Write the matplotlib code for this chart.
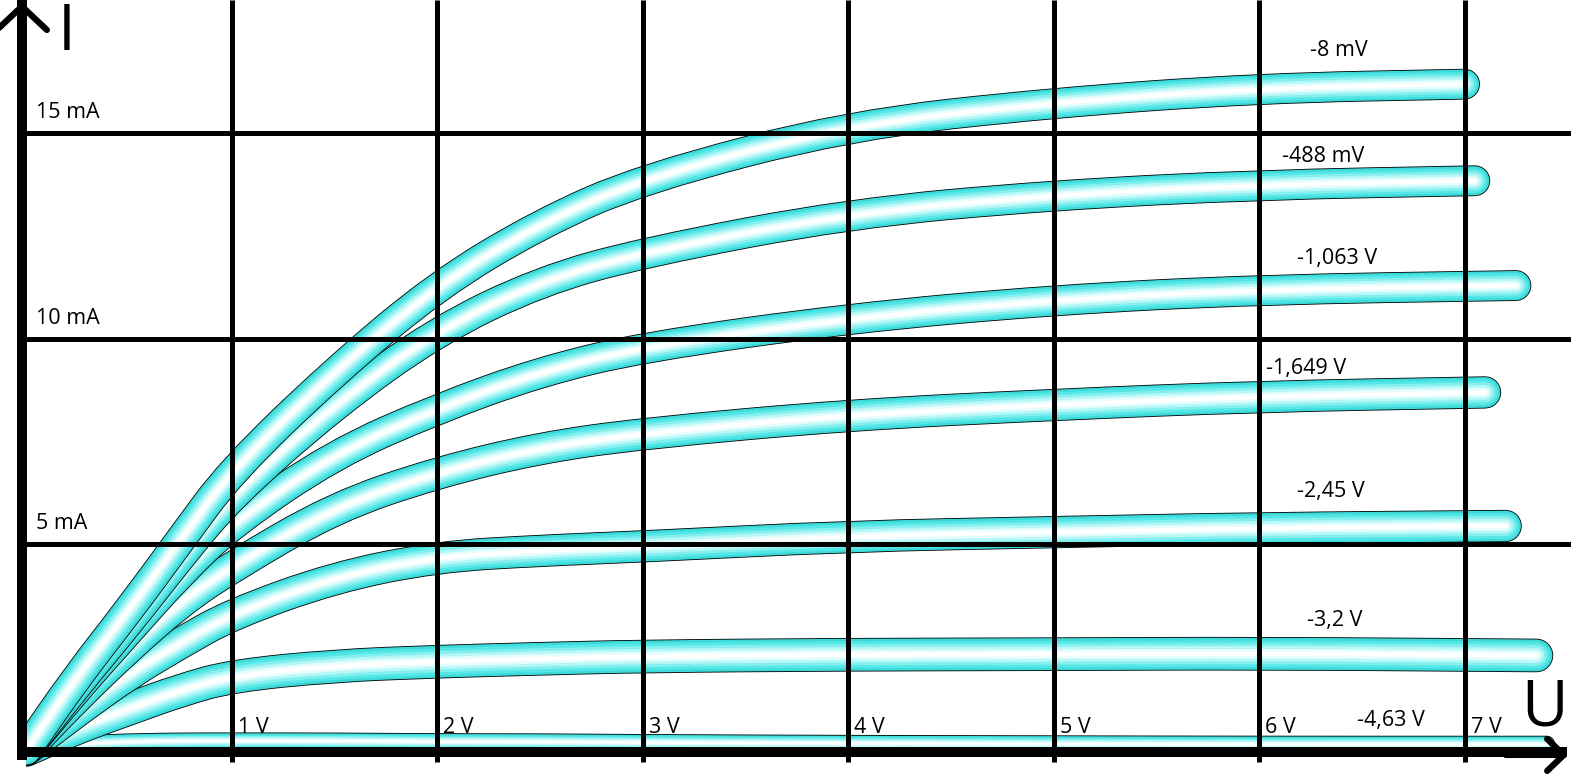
import matplotlib
matplotlib.use("Agg")
import matplotlib.pyplot as plt
from matplotlib.path import Path
from matplotlib.patches import PathPatch, Rectangle

plt.rcParams['font.family'] = ['Open Sans', 'DejaVu Sans']

# ---- data ----
voltage = [0, 0.25, 0.5, 0.75, 1, 1.5, 2, 2.5, 3, 4, 5, 6]
u_end = [7.0, 7.05, 7.25, 7.1, 7.2, 7.35, 7.4]
gate_labels = ['-8 mV', '-488 mV', '-1,063 V', '-1,649 V', '-2,45 V', '-3,2 V', '-4,63 V']
i_m8mv = [0, 1.8, 3.4, 5.1, 6.8, 9.2, 11.3, 12.8, 13.9, 15.2, 15.75, 16.1, 16.2]
i_m488mv = [0, 1.6, 3.1, 4.7, 6.2, 8.4, 10.2, 11.4, 12.1, 13.05, 13.5, 13.75, 13.85]
i_m1063v = [0, 1.5, 2.9, 4.3, 5.5, 7.2, 8.3, 9.2, 9.8, 10.5, 10.95, 11.2, 11.3]
i_m1649v = [0, 1.3, 2.5, 3.6, 4.45, 5.9, 6.75, 7.35, 7.7, 8.15, 8.4, 8.6, 8.7]
i_m245v = [0, 0.95, 1.85, 2.6, 3.3, 4.2, 4.7, 4.85, 4.95, 5.2, 5.3, 5.4, 5.45]
i_m32v = [0, 0.55, 1.0, 1.45, 1.8, 2.05, 2.15, 2.22, 2.28, 2.32, 2.33, 2.35, 2.3]
i_m463v = [0, 0.15, 0.2, 0.22, 0.22, 0.22, 0.2, 0.2, 0.18, 0.16, 0.15, 0.14, 0.14]
currents = [i_m8mv, i_m488mv, i_m1063v, i_m1649v, i_m245v, i_m32v, i_m463v]

u_ticks = [1, 2, 3, 4, 5, 6, 7]
u_tick_labels = ['1 V', '2 V', '3 V', '4 V', '5 V', '6 V', '7 V']
i_ticks = [5, 10, 15]
i_tick_labels = ['5 mA', '10 mA', '15 mA']

# ---- layout (label positions in data units) ----
label_u = [6.39, 6.31, 6.38, 6.23, 6.35, 6.37, 6.64]
label_i = [17.03, 14.43, 11.95, 9.27, 6.30, 3.14, 0.71]
widths = [21, 21, 21, 22, 22, 23, 11]

XLO, XHI = -0.1265, 7.518
YLO, YHI = -0.779, 18.248

fig = plt.figure(figsize=(15.71, 7.82), dpi=100)
ax = fig.add_axes([0, 0, 1, 1])
ax.set_xlim(XLO, XHI)
ax.set_ylim(YLO, YHI)
ax.axis('off')


def smooth_path(xs, ys):
    """Quadratic-Bezier path using the measured points as control points."""
    pts = list(zip(xs, ys))
    verts = [pts[0]]
    codes = [Path.MOVETO]
    mid = lambda a, b: ((a[0] + b[0]) / 2, (a[1] + b[1]) / 2)
    verts.append(mid(pts[0], pts[1]))
    codes.append(Path.LINETO)
    for j in range(1, len(pts) - 1):
        verts += [pts[j], mid(pts[j], pts[j + 1])]
        codes += [Path.CURVE3, Path.CURVE3]
    verts.append(pts[-1])
    codes.append(Path.LINETO)
    return Path(verts, codes)


clip = Rectangle((0, YLO), XHI, YHI - YLO, transform=ax.transData)

shades = [(1.0, '#3ddada'), (0.84, '#55e6e6'), (0.66, '#84efef'),
          (0.48, '#b8f7f7'), (0.3, '#e4fdfd'), (0.14, '#ffffff')]
for k in range(len(currents) - 1, -1, -1):
    u = voltage + [u_end[k]]
    path = smooth_path(u, currents[k])
    w = widths[k]
    z = 2 + (len(currents) - k) * 0.01
    layers = [('black', w + 1.2)] + [(c, w * f) for f, c in shades]
    for c, lw in layers:
        p = PathPatch(path, fill=False, edgecolor=c, lw=lw,
                      capstyle='round', joinstyle='round', zorder=z)
        ax.add_patch(p)
        p.set_clip_path(clip)
        z += 0.001

# grid lines
ax.vlines(u_ticks, -0.3, YHI, color='black', lw=3.6, zorder=5)
ax.hlines(i_ticks, -0.02, XHI, color='black', lw=3.6, zorder=5)

# axes
ax.vlines([-0.02], -0.25, YHI, color='black', lw=7.2, zorder=6)
ax.hlines([-0.05], -0.04, 7.5, color='black', lw=7.2, zorder=6)
ax.annotate('', xy=(-0.02, YHI - 0.05), xytext=(-0.02, YHI - 1.5),
            arrowprops=dict(arrowstyle='->,head_length=17,head_width=18', mutation_scale=1,
                            lw=4.5, color='black', shrinkA=0, shrinkB=0),
            annotation_clip=False, zorder=6)
ax.annotate('', xy=(7.505, -0.12), xytext=(7.2, -0.12),
            arrowprops=dict(arrowstyle='->,head_length=12,head_width=11.5', mutation_scale=1,
                            lw=4.5, color='black', shrinkA=0, shrinkB=0),
            annotation_clip=False, zorder=6)

# axis value labels
for u, t in zip(u_ticks, u_tick_labels):
    ax.text(u + 0.03, 0.55, t, fontsize=15.5, ha='left', va='center', zorder=7)
for v, t in zip(i_ticks, i_tick_labels):
    ax.text(0.05, v + 0.5, t, fontsize=15.5, ha='left', va='center', zorder=7)

# curve labels
for lu, li, t in zip(label_u, label_i, gate_labels):
    ax.text(lu, li, t, fontsize=15.5, ha='center', va='center', zorder=7)

# axis names
ax.text(0.2, 17.45, 'I', fontsize=46, ha='center', va='center', zorder=7)
ax.text(7.39, 1.02, 'U', fontsize=46, ha='center', va='center', zorder=7)

fig.savefig('out.png', dpi=100)
